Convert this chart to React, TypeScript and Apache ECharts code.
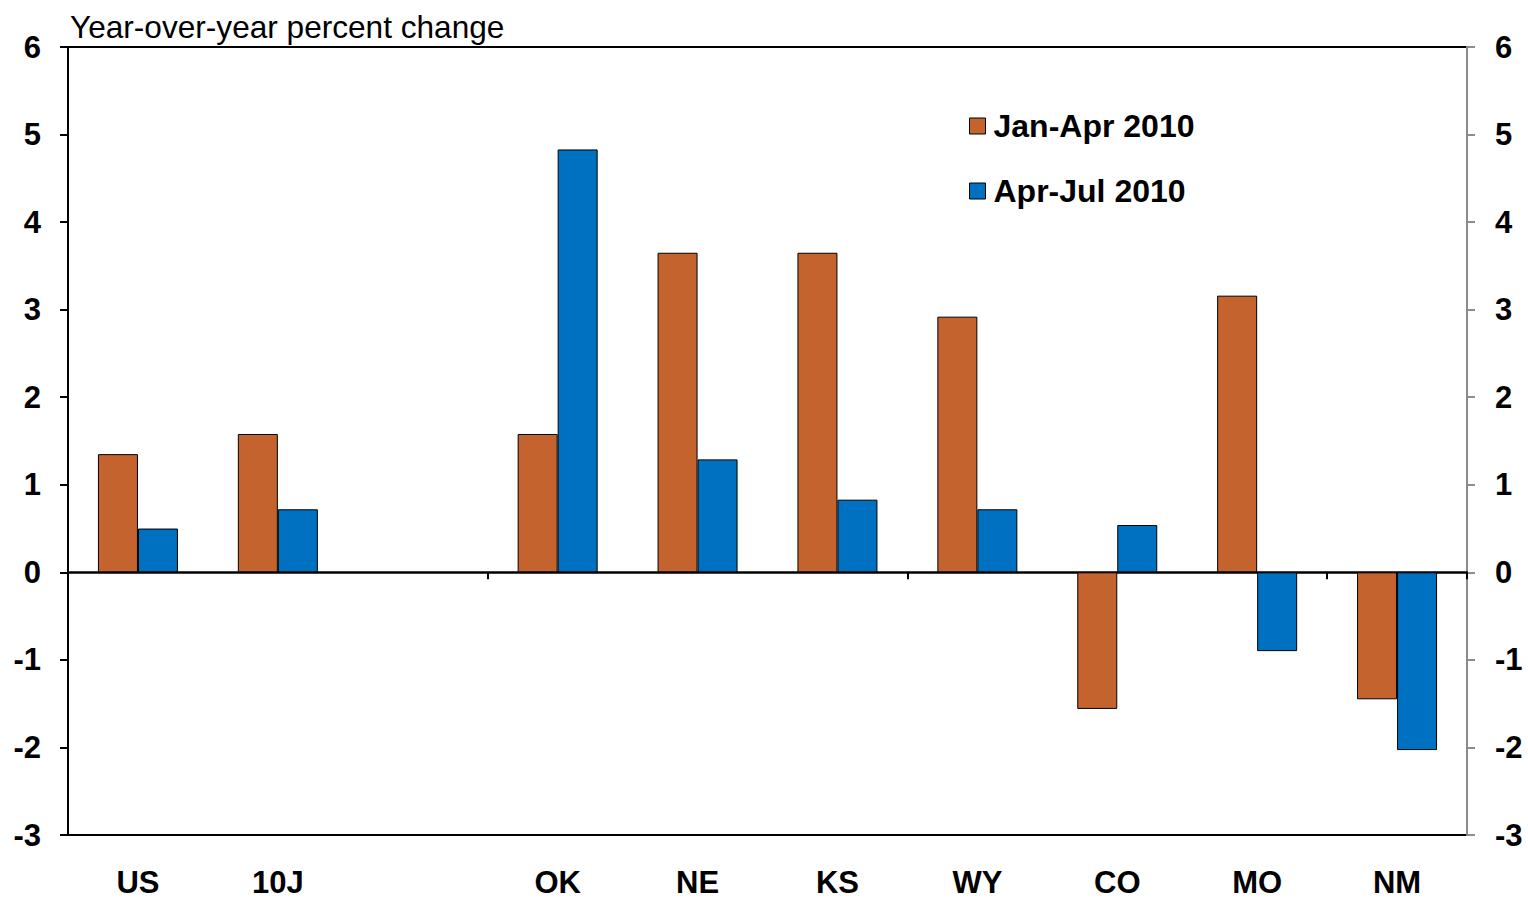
import React, { useEffect, useRef } from "react";
import * as echarts from "echarts";

const categories = ["US", "10J", "", "OK", "NE", "KS", "WY", "CO", "MO", "NM"];
const janApr2010 = [1.35, 1.58, null, 1.58, 3.65, 3.65, 2.92, -1.56, 3.16, -1.45];
const aprJul2010 = [0.5, 0.72, null, 4.83, 1.29, 0.83, 0.72, 0.54, -0.9, -2.03];
const seriesNames = ["Jan-Apr 2010", "Apr-Jul 2010"];
const yMin = -3;
const yMax = 6;
const yInterval = 1;
const chartTitle = "Year-over-year percent change";

const FONT = "'Liberation Sans', Arial, Helvetica, sans-serif";
const ORANGE = "#C4632D";
const BLUE = "#0070C0";

export default function App() {
  const ref = useRef<HTMLDivElement>(null);
  useEffect(() => {
    if (!ref.current) return;
    const chart = echarts.init(ref.current, null, { renderer: "svg" });
    const yLabel = { fontFamily: FONT, fontSize: 31, fontWeight: "bold", color: "#000" };
    chart.setOption({
      animation: false,
      backgroundColor: "#fff",
      title: {
        text: chartTitle,
        left: 70,
        top: 11,
        padding: 0,
        textStyle: { fontFamily: FONT, fontSize: 31.6, fontWeight: "normal", color: "#000" },
      },
      legend: {
        orient: "vertical",
        left: 969,
        top: 110,
        padding: 0,
        itemWidth: 16,
        itemHeight: 16,
        itemGap: 33,
        icon: "rect",
        itemStyle: { borderColor: "#000", borderWidth: 1 },
        textStyle: {
          fontFamily: FONT,
          fontSize: 32,
          fontWeight: "bold",
          color: "#000",
          lineHeight: 32,
          padding: [0, 0, 0, 3],
        },
        data: seriesNames,
      },
      grid: {
        left: 68,
        right: 61,
        top: 47,
        bottom: 63,
        show: true,
        borderColor: "#000",
        borderWidth: 2,
        backgroundColor: "transparent",
      },
      xAxis: [
        {
          type: "category",
          data: categories,
          position: "bottom",
          axisLine: { show: false, onZero: false },
          axisTick: { show: false },
          axisLabel: { ...yLabel, lineHeight: 26, margin: 34, interval: 0 },
          splitLine: { show: false },
        },
        {
          type: "category",
          data: categories,
          position: "top",
          axisLine: { show: true, onZero: true, lineStyle: { color: "#000", width: 2.5 } },
          axisTick: {
            show: true,
            inside: true,
            length: 7,
            interval: (i: number) => i % 3 === 0,
            lineStyle: { color: "#000", width: 2 },
          },
          axisLabel: { show: false },
          splitLine: { show: false },
        },
      ],
      yAxis: [
        {
          type: "value",
          min: yMin,
          max: yMax,
          interval: yInterval,
          position: "left",
          axisLine: { show: true, lineStyle: { color: "#000", width: 2 } },
          axisTick: { show: true, length: 8, lineStyle: { color: "#000", width: 2 } },
          axisLabel: { ...yLabel, margin: 27 },
          splitLine: { show: false },
        },
        {
          type: "value",
          min: yMin,
          max: yMax,
          interval: yInterval,
          position: "right",
          axisLine: { show: true, lineStyle: { color: "#8C8C8C", width: 2 } },
          axisTick: { show: true, length: 8, lineStyle: { color: "#8C8C8C", width: 2 } },
          axisLabel: { ...yLabel, margin: 28 },
          splitLine: { show: false },
        },
      ],
      series: [
        {
          name: seriesNames[0],
          type: "bar",
          xAxisIndex: 0,
          yAxisIndex: 0,
          data: janApr2010,
          barWidth: 40,
          barGap: "0%",
          itemStyle: { color: ORANGE, borderColor: "#000", borderWidth: 1 },
        },
        {
          name: seriesNames[1],
          type: "bar",
          xAxisIndex: 0,
          yAxisIndex: 0,
          data: aprJul2010,
          barWidth: 40,
          barGap: "0%",
          itemStyle: { color: BLUE, borderColor: "#000", borderWidth: 1 },
        },
      ],
    });
    return () => chart.dispose();
  }, []);
  return (
    <div
      ref={ref}
      style={{ position: "absolute", left: 0, top: 0, width: 1528, height: 898 }}
    />
  );
}
